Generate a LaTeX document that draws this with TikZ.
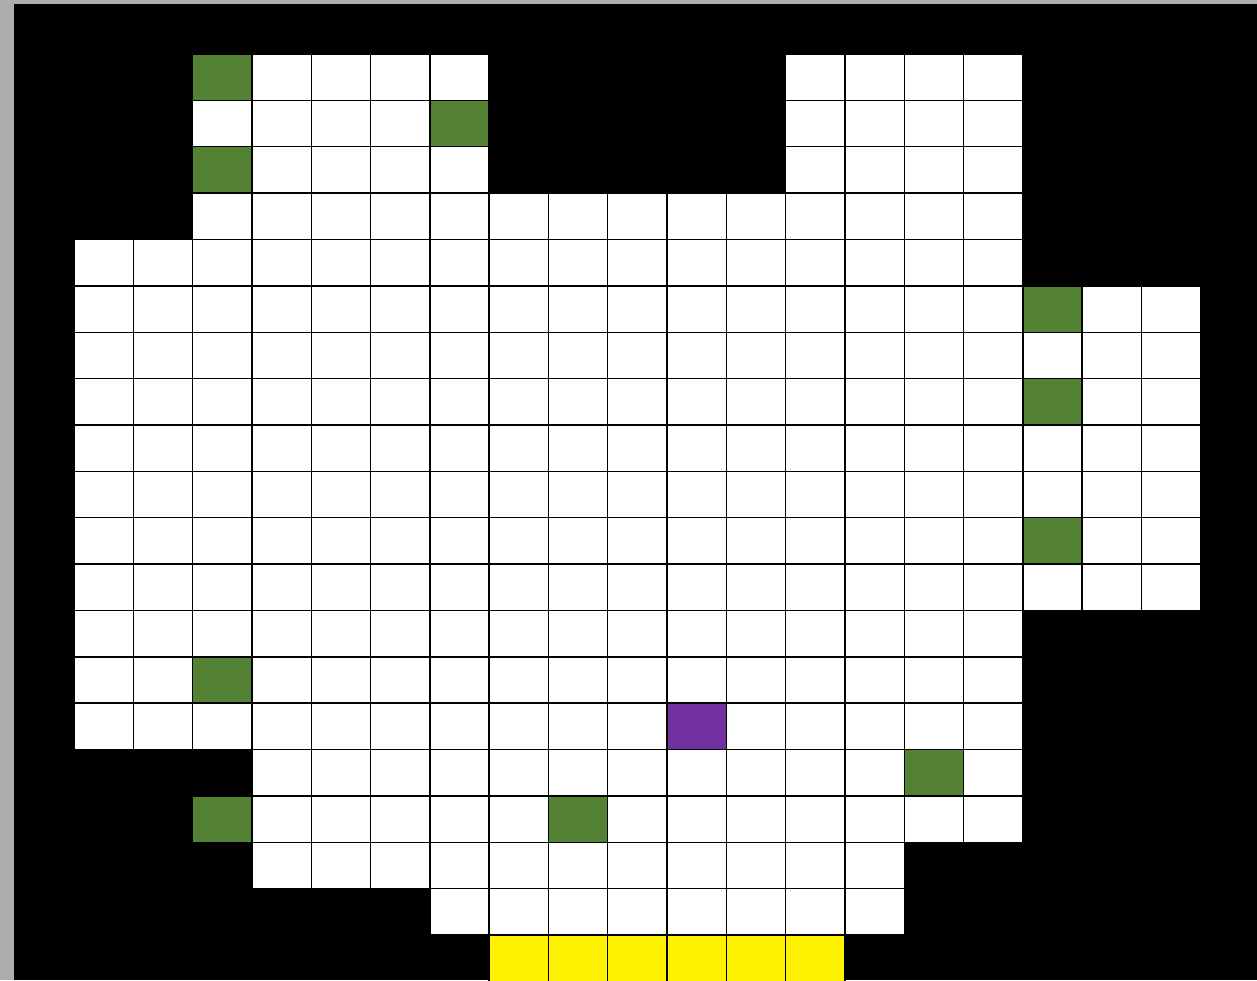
\documentclass[tikz,border=0pt]{standalone}
\usetikzlibrary{positioning}
\definecolor{leaf}{HTML}{548235}
\definecolor{spot}{HTML}{7030A0}
\definecolor{frame}{HTML}{AEAEAE}

\begin{document}
\begin{tikzpicture}[
    x=59.3pt, y=-46.37pt,
    cell/.style = {draw=black, line width=1.4pt, fill=white, minimum width=59.3pt, minimum height=46.37pt, inner sep=0pt, outer sep=0pt}
  ]
  \useasboundingbox (-74pt,54pt) rectangle (1183pt,-926pt);
  \clip (-74pt,54pt) rectangle (1183pt,-926pt);
  \fill[frame] (-74pt,54pt) rectangle (1183pt,-926pt);
  \fill[black] (-60pt,50pt) rectangle (1183pt,-926pt);

  % floor cells, row by row
  \foreach \r/\a/\b in {0/2/6, 0/12/15, 1/2/6, 1/12/15, 2/2/6, 2/12/15, 3/2/15, 4/0/15,
      5/0/18, 6/0/18, 7/0/18, 8/0/18, 9/0/18, 10/0/18, 11/0/18,
      12/0/15, 13/0/15, 14/0/15, 15/3/15, 16/3/15, 17/3/13, 18/6/13}
    \foreach \c in {\a,...,\b}
      \node[cell] (c-\r-\c) at (\c+0.5,\r+0.5) {};

  % green cells
  \foreach \r/\c [count=\i] in {0/2, 1/6, 2/2, 5/16, 7/16, 10/16, 13/2, 15/14, 16/2, 16/8}
    \node[cell, fill=leaf] (leaf-\i) at (\c+0.5,\r+0.5) {};

  \node[cell, fill=spot] (spot) at (10.5,14.5) {};

  % yellow row at the bottom
  \foreach \c in {7,...,12}
    \node[cell, fill=yellow] (exit-\c) at (\c+0.5,19.5) {};
\end{tikzpicture}
\end{document}
